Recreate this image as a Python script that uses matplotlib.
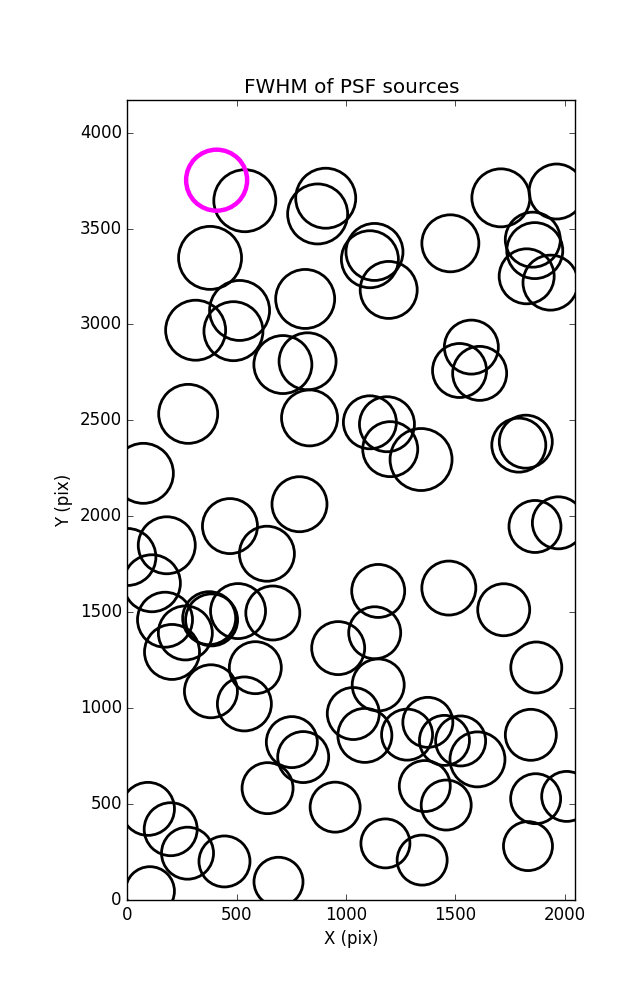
import matplotlib
matplotlib.use('Agg')
import matplotlib.pyplot as plt
import numpy as np

plt.style.use('classic')

# source positions (pix) and their FWHM (pix)
x = [537, 907, 870, 378, 813, 312, 513, 485, 711, 824, 833, 278, 73, 787,
     469, 638, 180, 0, 112, 1130, 1109, 1195, 1477, 1708, 1963, 1854, 1863,
     1826, 1935, 1573, 1519, 1611, 1109, 1187, 1202, 1343, 1790, 1822, 1864,
     1971, 172, 265, 204, 374, 385, 506, 665, 585, 382, 535, 752, 804, 641,
     950, 964, 94, 198, 275, 444, 103, 691, 1147, 1470, 1721, 1131, 1870,
     1147, 1033, 1086, 1279, 1374, 1450, 1524, 1601, 1845, 1360, 1458, 1867,
     2009, 1180, 1348, 1832]
y = [3645, 3658, 3576, 3347, 3133, 2970, 3073, 2965, 2791, 2808, 2513, 2534,
     2224, 2063, 1949, 1805, 1849, 1788, 1651, 3378, 3340, 3180, 3423, 3660,
     3693, 3442, 3385, 3251, 3218, 2882, 2760, 2745, 2490, 2480, 2350, 2296,
     2371, 2389, 1947, 1966, 1461, 1392, 1293, 1469, 1460, 1506, 1496, 1211,
     1088, 1022, 823, 745, 583, 484, 1313, 475, 369, 244, 201, 46, 95, 1611,
     1626, 1513, 1393, 1212, 1121, 972, 858, 862, 926, 832, 829, 733, 861,
     594, 495, 528, 540, 295, 208, 281]
fwhm = [6.2, 6.0, 6.0, 6.3, 5.9, 6.0, 6.0, 5.9, 5.8, 5.7, 5.6, 5.9, 6.0, 5.5,
        5.5, 5.5, 5.7, 5.7, 5.7, 5.7, 5.7, 5.7, 5.7, 5.8, 5.5, 5.5, 5.6, 5.5,
        5.5, 5.4, 5.4, 5.4, 5.3, 5.5, 5.5, 6.2, 5.4, 5.3, 5.2, 5.2, 5.5, 5.4,
        5.5, 5.3, 5.2, 5.5, 5.4, 5.2, 5.3, 5.4, 5.1, 5.1, 5.1, 5.0, 5.3, 5.3,
        5.3, 5.2, 5.1, 4.9, 4.9, 5.3, 5.4, 5.2, 5.2, 5.1, 5.2, 5.2, 5.4, 5.1,
        5.0, 5.0, 5.0, 5.5, 5.1, 5.1, 5.0, 5.0, 5.0, 4.9, 5.0, 4.9]

# highlighted source
x_sel = [408]
y_sel = [3752]
fwhm_sel = [6.1]

fig = plt.figure(figsize=(6.37, 10), dpi=100, facecolor='white')
ax = fig.add_axes([0.2, 0.1, 0.703, 0.8])

scale = 7.2  # marker diameter (pt) per FWHM unit
ax.scatter(x, y, s=(np.array(fwhm) * scale) ** 2, facecolors='none',
           edgecolors='black', linewidths=2)
ax.scatter(x_sel, y_sel, s=(np.array(fwhm_sel) * scale) ** 2, facecolors='none',
           edgecolors='magenta', linewidths=3.2)

ax.set_xlim(0, 2048)
ax.set_ylim(0, 4170)
ax.set_xticks([0, 500, 1000, 1500, 2000])
ax.set_yticks(np.arange(0, 4001, 500))
ax.set_xlabel('X (pix)')
ax.set_ylabel('Y (pix)')
ax.set_title('FWHM of PSF sources')

fig.savefig('out.png', dpi=100, facecolor='white')
